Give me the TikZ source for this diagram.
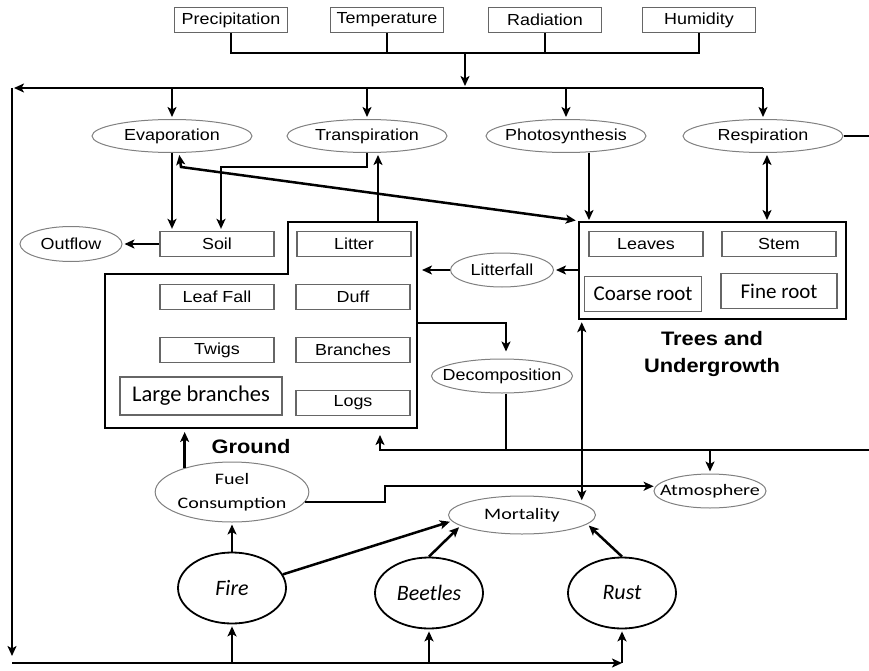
\documentclass[tikz,border=0pt]{standalone}
\usepackage{fontspec}
\setmainfont{Liberation Sans}[FakeStretch=1.12]
\newfontfamily\calfont{Carlito}
\newfontfamily\calwide{Carlito}[FakeStretch=1.25]
\usetikzlibrary{shapes.geometric,arrows.meta,positioning}
\newcommand{\tightlbl}[1]{\makebox[0pt]{#1}}

\begin{document}
\begin{tikzpicture}[
    x=1pt, y=-1pt,
    font=\fontsize{16}{18}\selectfont,
    climbox/.style={draw=black!60, line width=1.3pt, minimum width=113pt, minimum height=25pt, inner sep=0pt},
    pool/.style={draw=black!60, line width=1.3pt, minimum width=114pt, minimum height=25pt, inner sep=0pt},
    bigpool/.style={pool, font=\calfont\fontsize{21}{23}\selectfont, minimum height=35pt},
    proc/.style={ellipse, draw=black!50, line width=1pt, minimum width=160pt, minimum height=33pt, inner sep=0pt},
    procw/.style={proc, font=\calwide\fontsize{16}{24}\selectfont, align=center},
    agent/.style={ellipse, draw=black, line width=1.8pt, minimum width=108pt, minimum height=71pt, inner sep=0pt, font=\calfont\itshape\fontsize{22}{24}\selectfont},
    grp/.style={font=\bfseries\fontsize{19.5}{27}\selectfont, align=center},
    conn/.style={line width=2.5pt},
    arr/.style={conn, -{Stealth[length=10pt, width=9pt, inset=2.5pt]}, shorten >=2pt},
    dbl/.style={conn, {Stealth[length=10pt, width=9pt, inset=2.5pt]}-{Stealth[length=10pt, width=9pt, inset=2.5pt]}, shorten >=2pt, shorten <=2pt}
]
\useasboundingbox (0,0) rectangle (869,671);

\node[climbox] (prec) at (231,20) {Precipitation};
\node[climbox] (temp) at (387,20) {Temperature};
\node[climbox] (rad) at (545,20) {Radiation};
\node[climbox] (hum) at (699,20) {Humidity};

\coordinate (topbus) at (465,53);
\coordinate (procbus) at (465,88);
\coordinate (leftcorner) at (12,88);
\coordinate (botleft) at (12,663);
\coordinate (rightup) at (869,136);
\coordinate (rightlow) at (869,450);
\coordinate (gBR) at (417,428);
\coordinate (gTrans) at (378,222);
\coordinate (gDec) at (417,323);
\coordinate (gRet) at (380,428);

\node[proc] (evap) at (172,136) {Evaporation};
\node[proc] (trans) at (367,136) {Transpiration};
\node[proc] (photo) at (566,136) {\tightlbl{Photosynthesis}};
\node[proc] (resp) at (763,136) {Respiration};

\draw[conn] (105,274) -- (288,274) -- (288,222) -- (417,222) -- (417,428) -- (105,428) -- cycle;
\node[pool] (soil) at (217,244) {Soil};
\node[proc, minimum width=102pt, minimum height=35pt] (outflow) at (71,244) {Outflow};
\node[pool] (litter) at (354,244) {Litter};
\node[pool] (leaffall) at (217,297) {Leaf Fall};
\node[pool] (duff) at (353,297) {Duff};
\node[pool] (twigs) at (217,350) {Twigs};
\node[pool] (branches) at (353,350) {Branches};
\node[bigpool, minimum width=162pt, minimum height=38pt, font=\calfont\fontsize{22.5}{24}\selectfont] (largebr) at (201,396) {Large branches};
\node[pool] (logs) at (353,403) {Logs};
\node[grp] (groundlbl) at (251,447) {Ground};

\node[draw, line width=2.5pt, minimum width=267pt, minimum height=97pt] (trees) at (712.5,270.5) {};
\node[pool] (leaves) at (646,244) {Leaves};
\node[pool] (stem) at (779,244) {Stem};
\node[bigpool, minimum width=117pt] (coarse) at (643,294) {Coarse root};
\node[bigpool, minimum width=116pt] (fine) at (779,291) {Fine root};
\node[grp] (treeslbl) at (712,354) {Trees and\\Undergrowth};

\node[proc, minimum width=103pt, minimum height=34pt] (litterfall) at (502,270) {Litterfall};
\node[proc, minimum width=141pt, minimum height=34pt] (decomp) at (502,376) {\tightlbl{Decomposition}};

\node[procw, minimum width=148pt, minimum height=60pt] (fuel) at (232,492) {Fuel\\Consumption};
\node[procw, minimum width=147pt, minimum height=38pt] (mort) at (522,515) {Mortality};
\node[procw, minimum width=112pt, minimum height=34pt] (atmos) at (710,491) {\tightlbl{Atmosphere}};

\node[agent] (fire) at (232,588) {Fire};
\node[agent] (beetles) at (429,593) {Beetles};
\node[agent] (rust) at (622,593) {Rust};

\draw[conn] (prec.south) |- (topbus) -| (hum.south);
\draw[conn] (temp.south) -- (temp.south |- topbus);
\draw[conn] (rad.south) -- (rad.south |- topbus);
\draw[arr] (topbus) -- (procbus);
\draw[conn] (evap.north |- procbus) -- (resp.north |- procbus);
\foreach \p in {evap,trans,photo,resp}
  \draw[arr] (\p.north |- procbus) -- (\p.north);
\draw[arr] (evap.north |- procbus) -- (leftcorner);
\draw[arr, shorten >=7pt] (leftcorner) -- (botleft);
\draw[arr, shorten >=0pt] (botleft) -- (rust.south |- botleft);
\foreach \a in {fire,beetles,rust}
  \draw[arr] (\a.south |- botleft) -- (\a.south);
\draw[conn] (resp.east) -- (rightup);

\draw[arr] (evap.south) -- (evap.south |- soil.north);
\draw[arr] (trans.south) -- ++(0,14) -| ([xshift=4pt]soil.north);
\draw[arr] (soil.west) -- (outflow.east);
\draw[arr] (gTrans) -- (gTrans |- trans.south);
\draw[dbl] ([xshift=7pt]evap.south) -- ++(2,14) -- (trees.north west);
\draw[arr] ([xshift=23pt]photo.south) -- ++(0,69);
\draw[dbl] ([xshift=4pt]resp.south) -- ++(0,69);
\draw[dbl] ([xshift=4pt]trees.south west) -- ++(0,182);

\draw[arr] (trees.west |- litterfall.east) -- (litterfall.east);
\draw[arr, shorten >=5pt] (litterfall.west) -- (litterfall.west -| gBR);
\draw[arr, shorten >=7pt] (gDec) -| ([xshift=4pt]decomp.north);
\draw[conn] ([xshift=4pt]decomp.south) -- ++(0,57);
\draw[arr, shorten >=7pt] (rightlow) -| (gRet);
\draw[arr] (atmos.north |- rightlow) -- (atmos.north);

\draw[arr] (fuel.-8) -- ++(80,0) |- (atmos.175);
\draw[arr, shorten >=4pt] (fuel.153) -- (fuel.153 |- gBR);
\draw[arr] (fire.north) -- (fuel.south);
\draw[arr] (fire.15) -- (mort.185);
\draw[arr] (beetles.north) -- (mort.190);
\draw[arr] (rust.north) -- (mort.-8);
\end{tikzpicture}
\end{document}
